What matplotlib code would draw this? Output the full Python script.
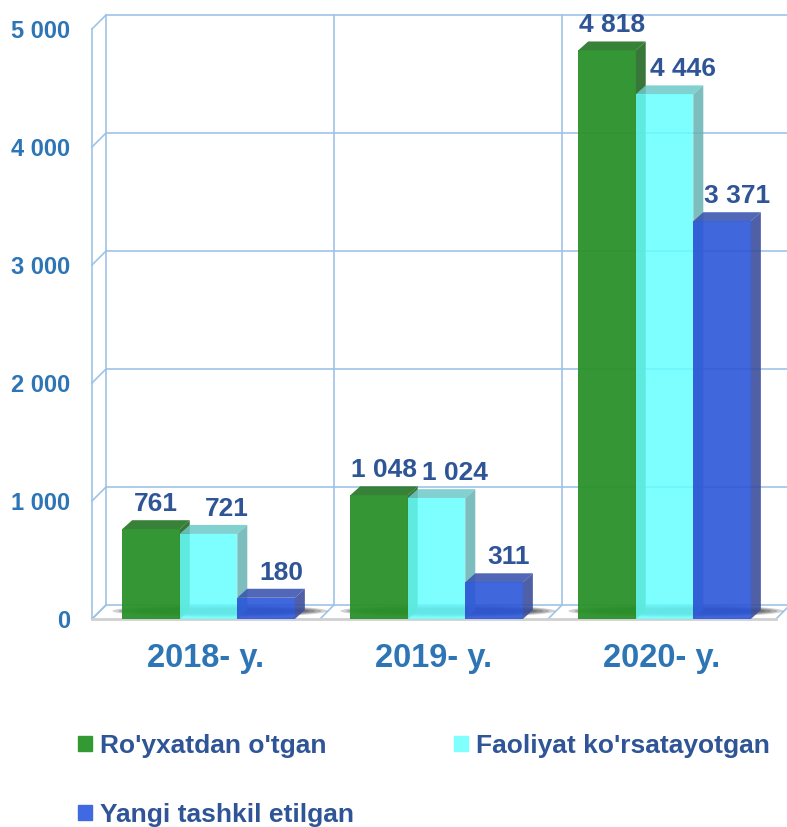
import matplotlib
matplotlib.use("Agg")
import matplotlib.pyplot as plt
import matplotlib.transforms as mtransforms
from matplotlib.patches import Polygon, Ellipse
from matplotlib.lines import Line2D

plt.rcParams['font.family'] = ['Liberation Sans', 'DejaVu Sans']

# data
years = ["2018- y.", "2019- y.", "2020- y."]
series_names = ["Ro'yxatdan o'tgan", "Faoliyat ko'rsatayotgan", "Yangi tashkil etilgan"]
registered = [761, 1048, 4818]
active = [721, 1024, 4446]
new_created = [180, 311, 3371]
yticks = [0, 1000, 2000, 3000, 4000, 5000]

# styles
front_cols = ['#299129', '#66ffff', '#2c56d9']
alphas = [0.95, 0.85, 0.9]
top_cols = ['#2d7a2d', '#6cc9c9', '#3d57b0']
side_cols = ['#2e6f2e', '#66b2b2', '#3c4f9e']
legend_cols = ['#339933', '#80ffff', '#4169e1']
label_dx = [5, 18, 15]   # px shift of the value labels per series
grid_col = '#9dc3e6'
tick_col = '#2e75b6'
label_col = '#2f5597'
WALL = 14      # depth of the back wall, px
DEPTH = (10, 9)  # depth of the bars, px
bar_w = 0.2525
shift = 0.011

fig = plt.figure(figsize=(7.87, 8.27), dpi=100)
ax = fig.add_axes([92 / 787, (827 - 619) / 827, 684 / 787, (619 - 29) / 827])
ax.set_xlim(-0.5, 2.5)
ax.set_ylim(0, 5000)
ax.set_facecolor('none')
for s in ax.spines.values():
    s.set_visible(False)

ident = mtransforms.IdentityTransform()
back = ax.transData + mtransforms.ScaledTranslation(WALL / 100, WALL / 100, fig.dpi_scale_trans)


def disp(x, y, dx=0, dy=0):
    p = ax.transData.transform((x, y))
    return (p[0] + dx, p[1] + dy)


def dline(p0, p1, **kw):
    ax.add_line(Line2D([p0[0], p1[0]], [p0[1], p1[1]], transform=ident, clip_on=False, **kw))


# back wall grid
for v in yticks:
    ax.plot([-0.5, 2.5], [v, v], color=grid_col, lw=1.2, transform=back, clip_on=False, zorder=1)
    dline(disp(-0.5, v), disp(-0.5, v, WALL, WALL), color=grid_col, lw=1.2, zorder=1)
for b in [-0.5, 0.5, 1.5, 2.5]:
    ax.plot([b, b], [0, 5000], color=grid_col, lw=1.2, transform=back, clip_on=False, zorder=1)
    dline(disp(b, 0), disp(b, 0, WALL, WALL), color=grid_col, lw=1.2, zorder=1)
ax.plot([-0.5, -0.5], [0, 5000], color=grid_col, lw=1.2, clip_on=False, zorder=1)
ax.plot([-0.5, 2.5], [0, 0], color='#d0d0d0', lw=2, clip_on=False, zorder=1.5)

# floor shadows
for i in range(len(years)):
    cx, cy = disp(i + shift + 0.05, 0, 0, 8)
    for k in range(5):
        ax.add_patch(Ellipse((cx, cy), 215 - k * 12, 12 - k * 1.5, transform=ident,
                             facecolor='black', alpha=0.18, edgecolor='none', zorder=1.6, clip_on=False))

# bars
data = [registered, active, new_created]
for j, vals in enumerate(data):
    xs = [i + shift + (j - 1) * bar_w for i in range(len(years))]
    z = 2 + j
    ax.bar(xs, vals, bar_w, color=front_cols[j], alpha=alphas[j], zorder=z + 0.5,
           label=series_names[j], linewidth=0)
    for x, v in zip(xs, vals):
        x0, x1 = x - bar_w / 2, x + bar_w / 2
        top = [disp(x0, v), disp(x1, v), disp(x1, v, *DEPTH), disp(x0, v, *DEPTH)]
        side = [disp(x1, 0), disp(x1, v), disp(x1, v, *DEPTH), disp(x1, 0, *DEPTH)]
        ax.add_patch(Polygon(top, closed=True, transform=ident, facecolor=top_cols[j],
                             alpha=alphas[j], edgecolor='none', zorder=z, clip_on=False))
        ax.add_patch(Polygon(side, closed=True, transform=ident, facecolor=side_cols[j],
                             alpha=alphas[j], edgecolor='none', zorder=z, clip_on=False))
        ax.annotate(f"{v:,}".replace(",", " "), xy=(x, v), xytext=(label_dx[j], 18),
                    textcoords='offset pixels', ha='center', va='baseline',
                    fontsize=19, fontweight='bold', color=label_col, zorder=10)

# axes labels
ax.set_yticks(yticks)
ax.set_yticklabels([f"{v:,}".replace(",", " ") for v in yticks])
ax.set_xticks(range(len(years)))
ax.set_xticklabels(years)
ax.tick_params(axis='y', length=0, pad=16, labelsize=17, labelcolor=tick_col)
ax.tick_params(axis='x', length=0, pad=17, labelsize=23.5, labelcolor=tick_col)
for t in ax.get_yticklabels() + ax.get_xticklabels():
    t.set_fontweight('bold')

# legend (column order so green/cyan are on the first row)
order = [0, 2, 1]
proxies = [plt.Rectangle((0, 0), 1, 1, color=legend_cols[k]) for k in order]
leg = fig.legend(proxies, [series_names[k] for k in order], loc='upper left',
                 bbox_to_anchor=(78 / 787, 1 - 734 / 827), ncol=2, frameon=False,
                 prop={'size': 19, 'weight': 'bold'}, labelcolor=label_col,
                 handlelength=0.53, handleheight=0.53, handletextpad=0.3,
                 columnspacing=3.8, labelspacing=1.7, borderpad=0, borderaxespad=0)

fig.savefig("out.png", dpi=100)
